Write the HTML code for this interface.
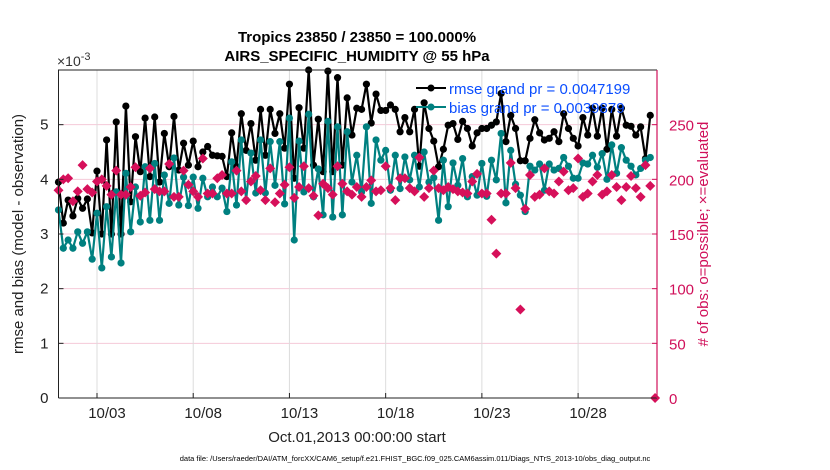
<!DOCTYPE html>
<html><head><meta charset="utf-8"><style>
body{margin:0;background:#fff;}
svg{display:block;font-family:"Liberation Sans",sans-serif;}
</style></head><body>
<svg id="chart" width="830" height="470" viewBox="0 0 830 470">
<g id="grid"></g>
<g id="series"></g>
<g id="axes"></g>
<text x="357" y="42" text-anchor="middle" font-size="15" font-weight="bold">Tropics 23850 / 23850 = 100.000%</text>
<text x="357" y="61" text-anchor="middle" font-size="15" font-weight="bold">AIRS_SPECIFIC_HUMIDITY @ 55 hPa</text>
<text x="57" y="66" font-size="14" fill="#333">×10<tspan dy="-6" font-size="11">-3</tspan></text>
<text transform="translate(23,234) rotate(-90)" text-anchor="middle" font-size="15" fill="#222">rmse and bias (model - observation)</text>
<text transform="translate(708,234) rotate(-90)" text-anchor="middle" font-size="15" fill="#d0105a"># of obs: o=possible; ×=evaluated</text>
<text x="357" y="442" text-anchor="middle" font-size="15" fill="#222">Oct.01,2013 00:00:00 start</text>
<text x="415" y="461" text-anchor="middle" font-size="7.5" fill="#000">data file: /Users/raeder/DAI/ATM_forcXX/CAM6_setup/f.e21.FHIST_BGC.f09_025.CAM6assim.011/Diags_NTrS_2013-10/obs_diag_output.nc</text>
<g>
<line x1="416" y1="88" x2="446" y2="88" stroke="#000" stroke-width="2"/>
<circle cx="431" cy="88" r="3.5" fill="#000"/>
<text x="449" y="94" font-size="15" fill="#0a4dff">rmse grand pr = 0.0047199</text>
<line x1="416" y1="107" x2="446" y2="107" stroke="#008080" stroke-width="2"/>
<circle cx="431" cy="107" r="3.5" fill="#008080"/>
<text x="449" y="113" font-size="15" fill="#0a4dff">bias grand pr = 0.0039879</text>
</g>
</svg>
<script>
const rmse = [3.95,3.2,3.62,3.33,3.65,3.47,3.64,3.02,4.15,3.0,4.72,3.0,5.05,3.0,5.34,
3.59,4.78,4.14,5.12,4.05,5.14,3.95,4.84,4.23,5.15,4.17,4.66,4.26,4.70,4.23,4.5,4.6,4.44,4.43,4.42,4.05,4.85,4.23,5.2,4.53,5.02,4.35,5.28,
4.44,5.28,4.84,5.2,4.57,5.74,4.02,5.31,4.57,6.0,4.26,5.1,4.14,5.98,4.14,5.86,4.26,5.49,4.81,5.3,
5.28,5.74,5.03,5.56,5.26,5.26,5.36,5.28,4.87,5.13,4.87,5.28,4.24,5.4,4.93,4.7,4.23,4.55,4.99,
5.02,4.73,5.06,4.93,4.61,4.85,4.93,4.93,4.99,5.05,5.57,4.69,5.17,4.93,4.34,4.34,4.75,5.09,4.85,4.72,4.75,4.87,4.69,5.2,4.93,4.75,4.61,5.13,4.81,5.3,4.79,5.3,4.55,5.28,4.79,5.3,4.99,4.97,4.81,4.96,4.38,5.17];
const bias = [3.44,2.74,2.89,2.74,3.04,2.83,3.04,2.54,3.38,2.38,3.5,2.58,3.77,2.47,4.11,3.04,3.86,3.22,4.23,3.25,4.29,3.25,4.08,3.56,4.39,3.53,4.04,3.52,4.04,3.47,4.02,3.68,3.86,3.68,3.84,3.41,4.32,3.53,4.72,3.62,4.48,3.75,4.72,
3.75,4.69,3.89,4.69,3.55,5.12,2.89,4.7,3.77,5.19,3.68,4.19,3.35,5.06,3.31,4.96,3.35,4.87,3.95,4.44,
3.77,4.96,3.56,4.72,4.35,4.53,3.8,4.44,3.83,4.41,3.99,4.44,3.86,4.5,3.95,4.03,3.25,4.35,3.5,
4.3,3.89,4.38,3.68,4.05,3.71,4.29,3.69,4.35,3.99,4.84,3.57,4.53,3.91,3.71,3.41,4.24,4.17,4.28,3.8,4.28,4.17,4.2,4.4,4.24,4.02,4.02,4.3,4.28,4.44,4.22,4.47,4.0,4.63,4.11,4.58,4.35,4.24,4.08,4.2,4.35,4.4];
const nobs = [190,200,201,180,189,213,191,188,198,200,194,186,208,186,186,193,211,185,188,210,191,
189,189,214,184,184,208,195,189,184,219,187,187,201,204,187,187,208,189,181,198,203,190,
181,210,179,187,195,211,183,193,212,192,185,167,196,192,186,212,196,189,186,
193,184,193,199,189,190,212,192,181,201,201,192,189,220,184,192,208,192,190,193,
191,189,188,187,198,205,187,187,163,132,187,187,215,192,81,173,204,184,186,210,189,187,198,207,190,192,219,184,187,198,204,186,189,204,193,181,193,203,192,184,213,194,0];
const stepDays = 0.25;
const xTickDays = [2,7,12,17,22,27];
const xTickLabels = ["10/03","10/08","10/13","10/18","10/23","10/28"];
const yTicks = [0,1,2,3,4,5];
const y2Ticks = [0,50,100,150,200,250];

const L=58.5,R=657,T=70,B=398;
const xMax=31.1, yMax=6, y2Max=300;
const xs=d=>L+d/xMax*(R-L);
const ys=v=>B-v/yMax*(B-T);
const y2s=n=>B-n/y2Max*(B-T);
const NS="http://www.w3.org/2000/svg";
function mk(tag,attrs,parent){const e=document.createElementNS(NS,tag);for(const k in attrs)e.setAttribute(k,attrs[k]);parent.appendChild(e);return e;}
const grid=document.getElementById('grid'),axes=document.getElementById('axes'),ser=document.getElementById('series');

y2Ticks.concat([300]).forEach(n=>{const g=mk('line',{x1:L,x2:R,y1:y2s(n),y2:y2s(n),stroke:'#f4c9d8','stroke-width':1},grid);

});
xTickDays.forEach((d,i)=>{const g=mk('line',{x1:xs(d),x2:xs(d),y1:T,y2:B,stroke:'#dcdcdc','stroke-width':1},grid);


const tk=mk('line',{x1:xs(d),x2:xs(d),y1:B,y2:B-5,stroke:'#222'},axes);


const t=mk('text',{x:xs(d)+10,y:B+20,'text-anchor':'middle','font-size':15,fill:'#222'},axes);t.textContent=xTickLabels[i];

});
yTicks.forEach(v=>{const t=mk('text',{x:L-10,y:ys(v)+5,'text-anchor':'end','font-size':15,fill:'#222'},axes);t.textContent=v;


const tk=mk('line',{x1:L,x2:L+5,y1:ys(v),y2:ys(v),stroke:'#222'},axes);

});
y2Ticks.forEach(n=>{const t=mk('text',{x:R+12,y:y2s(n)+6,'font-size':15,fill:'#d0105a'},axes);t.textContent=n;


const tk=mk('line',{x1:R-5,x2:R,y1:y2s(n),y2:y2s(n),stroke:'#d0105a'},axes);

});
let a=mk('path',{d:`M${L},${B}V${T}H${R}`,fill:'none',stroke:'#222','stroke-width':1},axes);


a=mk('line',{x1:L,x2:R,y1:B,y2:B,stroke:'#222','stroke-width':1},axes);


a=mk('line',{x1:R,x2:R,y1:T,y2:B,stroke:'#d0105a','stroke-width':1.2},axes);



function line(arr,color,name){
 const d=arr.map((v,i)=>(i?'L':'M')+xs(i*stepDays).toFixed(1)+','+ys(v).toFixed(1)).join('');
 const p=mk('path',{d:d,fill:'none',stroke:color,'stroke-width':2.2,'stroke-linejoin':'round'},ser);
 
 
 arr.forEach((v,i)=>{const c=mk('circle',{cx:xs(i*stepDays),cy:ys(v),r:3.6,fill:color},ser);
 
 });
}
line(rmse,'#000','rmse');
line(bias,'#008080','bias');
nobs.forEach((n,i)=>{const x=xs(i*stepDays),y=y2s(n),s=5;
 const p=mk('path',{d:`M${x},${y-s}L${x+s},${y}L${x},${y+s}L${x-s},${y}Z`,fill:'#d6105a'},ser);
 
 });
</script>
</body></html>
